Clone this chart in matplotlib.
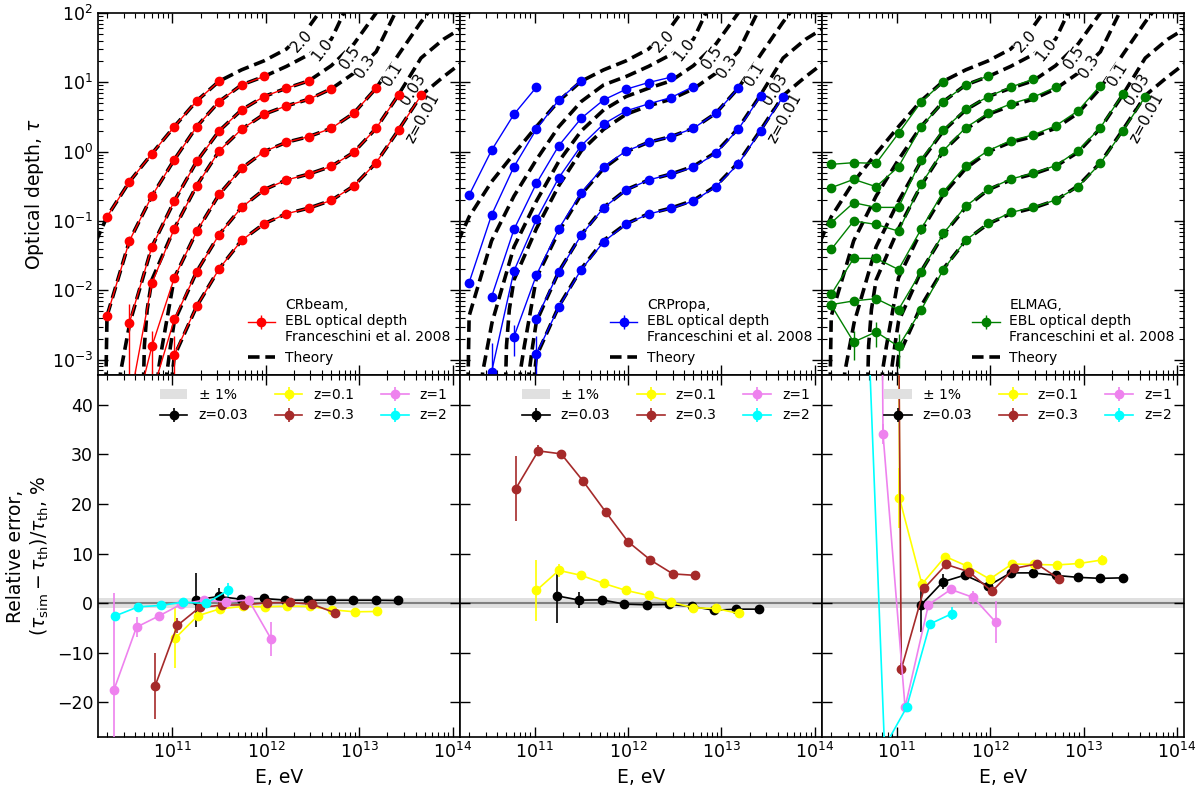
import numpy as np
import matplotlib
matplotlib.use("Agg")
import matplotlib.pyplot as plt
from matplotlib.patches import Patch

N = np.nan

# ---------------- energy grid of simulated points (log10 E/eV) ----------------
grid_logE = [10.30, 10.54, 10.78, 11.02, 11.26, 11.50, 11.74, 11.98,
             12.22, 12.46, 12.70, 12.94, 13.18, 13.42, 13.66]

z_labels = ["2.0", "1.0", "0.5", "0.3", "0.1", "0.03", "z=0.01"]

# ---------------- theory curves (log10 E, log10 tau) ----------------
th_z2_logE = [10.18, 10.30, 10.54, 10.78, 11.02, 11.26, 11.50, 11.74, 11.98, 12.22, 12.46, 12.70]
th_z2_logtau = [-1.30, -0.94, -0.434, -0.03, 0.361, 0.732, 1.016, 1.18, 1.31, 1.48, 1.80, 2.25]

th_z1_logE = [10.285, 10.30, 10.54, 10.78, 11.02, 11.26, 11.50, 11.74, 11.98, 12.22, 12.46, 12.70, 12.94]
th_z1_logtau = [-3.6, -2.37, -1.286, -0.641, -0.116, 0.361, 0.723, 0.963, 1.084, 1.23, 1.40, 1.62, 2.3]

th_z05_logE = [10.42, 10.445, 10.545, 10.78, 11.02, 11.26, 11.50, 11.74, 11.98, 12.22, 12.46, 12.70, 12.94, 13.18, 13.42]
th_z05_logtau = [-3.6, -3.18, -2.466, -1.373, -0.713, -0.14, 0.299, 0.602, 0.795, 0.915, 1.021, 1.24, 1.55, 2.0, 2.5]

th_z03_logE = [10.685, 10.70, 10.73, 10.78, 11.02, 11.26, 11.50, 11.74, 11.98, 12.22, 12.46, 12.70, 12.94, 13.18, 13.42]
th_z03_logtau = [-3.6, -2.8, -2.28, -1.85, -1.11, -0.49, 0.01, 0.323, 0.539, 0.66, 0.756, 0.906, 1.13, 1.44, 2.1]

th_z01_logE = [10.83, 10.85, 10.89, 11.02, 11.26, 11.50, 11.74, 11.98, 12.22, 12.46, 12.70, 12.94, 13.18, 13.42, 13.66, 13.90]
th_z01_logtau = [-3.6, -3.15, -2.81, -1.82, -1.15, -0.616, -0.241, 0.0, 0.135, 0.217, 0.337, 0.554, 0.915, 1.40, 1.87, 2.3]

th_z003_logE = [10.92, 10.94, 10.98, 11.02, 11.26, 11.50, 11.74, 11.98, 12.22, 12.46, 12.70, 12.94, 13.18, 13.42, 13.66, 13.90, 14.14]
th_z003_logtau = [-3.6, -3.2, -2.8, -2.45, -1.73, -1.196, -0.804, -0.549, -0.409, -0.323, -0.212, -0.01, 0.337, 0.82, 1.35, 1.62, 1.82]

th_z001_logE = [10.98, 11.00, 11.02, 11.26, 11.50, 11.74, 11.98, 12.22, 12.46, 12.70, 12.94, 13.18, 13.42, 13.66, 13.90, 14.14]
th_z001_logtau = [-3.6, -3.2, -2.95, -2.23, -1.69, -1.28, -1.04, -0.896, -0.814, -0.703, -0.496, -0.159, 0.313, 0.81, 1.08, 1.33]

# inline curve labels: log10 E, log10 tau, rotation
lab_logE = [12.384, 12.598, 12.90, 13.06, 13.36, 13.576, 13.68]
lab_logtau = [1.594, 1.47, 1.354, 1.23, 1.11, 0.896, 0.487]
lab_rot = [47, 52, 56, 56, 58, 58, 61]

# ---------------- simulated optical depth (log10 tau) on grid ----------------
# CRbeam
cb_z2 = [-0.94, -0.434, -0.03, 0.361, 0.732, 1.016, N, N, N, N, N, N, N, N, N]
cb_z1 = [-2.37, -1.286, -0.641, -0.116, 0.361, 0.723, 0.963, 1.084, N, N, N, N, N, N, N]
cb_z05 = [N, -2.466, -1.373, -0.713, -0.14, 0.299, 0.602, 0.795, 0.915, 1.021, N, N, N, N, N]
cb_z03 = [N, -3.64, -1.90, -1.11, -0.49, 0.01, 0.323, 0.539, 0.66, 0.756, 0.906, N, N, N, N]
cb_z01 = [N, -4.1, -2.81, -1.82, -1.15, -0.616, -0.241, 0.0, 0.135, 0.217, 0.337, 0.554, 0.915, N, N]
cb_z003 = [N, N, -3.5, -2.42, -1.73, -1.196, -0.804, -0.549, -0.409, -0.323, -0.212, -0.01, 0.337, 0.82, N]
cb_z001 = [N, N, N, -2.93, -2.23, -1.69, -1.28, -1.04, -0.896, -0.814, -0.703, -0.496, -0.159, 0.313, 0.81]
# CRPropa
cp_z2 = [-0.626, 0.019, 0.539, 0.93, N, N, N, N, N, N, N, N, N, N, N]
cp_z1 = [-1.888, -0.915, -0.217, 0.323, 0.747, 1.026, N, N, N, N, N, N, N, N, N]
cp_z05 = [N, -2.095, -1.122, -0.458, 0.087, 0.482, 0.747, 0.90, 0.997, 1.074, N, N, N, N, N]
cp_z03 = [N, -3.18, -1.72, -0.978, -0.376, 0.087, 0.40, 0.588, 0.689, 0.78, 0.939, N, N, N, N]
cp_z01 = [N, N, -2.67, -1.78, -1.113, -0.592, -0.217, 0.0096, 0.135, 0.217, 0.337, 0.554, 0.915, N, N]
cp_z003 = [N, N, N, -2.41, -1.734, -1.204, -0.809, -0.554, -0.409, -0.323, -0.226, -0.024, 0.323, 0.804, N]
cp_z001 = [N, N, N, -2.92, -2.24, -1.70, -1.30, -1.045, -0.90, -0.819, -0.713, -0.506, -0.178, 0.30, 0.795]
# ELMAG
el_z2 = [-0.183, -0.159, -0.169, 0.265, 0.713, 1.01, N, N, N, N, N, N, N, N, N]
el_z1 = [-0.52, -0.40, -0.506, -0.217, 0.352, 0.723, 0.963, 1.094, N, N, N, N, N, N, N]
el_z05 = [-1.026, -0.737, -0.804, -0.804, -0.12, 0.313, 0.612, 0.795, 0.93, 1.045, N, N, N, N, N]
el_z03 = [-1.41, -1.00, -1.05, -1.146, -0.472, 0.0145, 0.347, 0.554, 0.689, 0.785, 0.93, N, N, N, N]
el_z01 = [-2.056, -1.54, -1.54, -1.70, -1.122, -0.578, -0.202, 0.0145, 0.159, 0.241, 0.371, 0.588, 0.954, N, N]
el_z003 = [-2.206, -2.153, -2.12, -2.278, -1.734, -1.18, -0.785, -0.544, -0.395, -0.313, -0.202, 0.0145, 0.347, 0.829, N]
el_z001 = [-2.215, -2.746, -2.60, -2.81, -2.288, -1.70, -1.276, -1.036, -0.877, -0.804, -0.698, -0.506, -0.169, 0.30, 0.795]

# visible error bars in tau units: (curve index, grid index) -> error
cb_err = {(2, 1): 0.003, (4, 2): 0.001, (6, 3): 0.001}
cp_err = {(3, 1): 0.0011, (4, 2): 0.001, (6, 3): 0.001}
el_err = {(6, 1): 0.0008, (6, 2): 0.001, (6, 3): 0.0008}

code_names = ["CRbeam", "CRPropa", "ELMAG"]
code_colors = ["red", "blue", "green"]

# ---------------- relative errors, % (log10 E, value, error) ----------------
rel_colors = ["black", "yellow", "brown", "violet", "cyan"]
rel_labels = ["z=0.03", "z=0.1", "z=0.3", "z=1", "z=2"]

# CRbeam
cb_r003_logE = [11.253, 11.495, 11.733, 11.975, 12.21, 12.455, 12.694, 12.936, 13.174, 13.413]
cb_r003_val = [0.67, 1.34, 0.8, 0.94, 0.6, 0.6, 0.6, 0.6, 0.6, 0.54]
cb_r003_err = [5.4, 1.7, 0.3, 0.3, 0.2, 0.2, 0.2, 0.2, 0.2, 0.2]
cb_r01_logE = [11.03, 11.27, 11.51, 11.755, 11.99, 12.23, 12.47, 12.71, 12.95, 13.19]
cb_r01_val = [-7.06, -2.56, -1.14, -0.67, -0.74, -0.6, -0.67, -1.34, -1.75, -1.68]
cb_r01_err = [6.0, 1.0, 0.5, 0.3, 0.3, 0.3, 0.3, 0.3, 0.3, 0.4]
cb_r03_logE = [10.815, 11.053, 11.29, 11.534, 11.77, 12.01, 12.256, 12.495, 12.737]
cb_r03_val = [-16.7, -4.5, -0.87, -0.4, -0.34, 0.07, 0.13, -0.2, -1.95]
cb_r03_err = [6.6, 1.5, 0.5, 0.3, 0.3, 0.3, 0.3, 0.3, 0.4]
cb_r1_logE = [10.374, 10.616, 10.858, 11.096, 11.335, 11.573, 11.815, 12.057]
cb_r1_val = [-17.5, -4.84, -2.56, -0.2, 0.6, 0.2, 0.67, -7.26]
cb_r1_err = [19.5, 2.0, 0.5, 0.5, 0.5, 0.5, 0.8, 3.4]
cb_r2_logE = [10.39, 10.633, 10.875, 11.114, 11.356, 11.594]
cb_r2_val = [-2.56, -0.74, -0.47, 0.2, -0.07, 2.56]
cb_r2_err = [0.5, 0.3, 0.3, 0.3, 0.5, 1.6]

# CRPropa
cp_r003_logE = [11.24, 11.48, 11.72, 11.96, 12.20, 12.44, 12.68, 12.92, 13.16, 13.40]
cp_r003_val = [1.48, 0.6, 0.67, -0.2, -0.34, -0.27, -0.67, -1.41, -1.21, -1.21]
cp_r003_err = [5.4, 1.6, 0.3, 0.3, 0.3, 0.3, 0.3, 0.3, 0.3, 0.3]
cp_r01_logE = [11.02, 11.26, 11.50, 11.74, 11.98, 12.22, 12.46, 12.70, 12.94, 13.185]
cp_r01_val = [2.56, 6.6, 5.6, 3.97, 2.56, 1.55, 0.2, -0.94, -1.08, -2.08]
cp_r01_err = [6.2, 1.3, 0.3, 0.3, 0.3, 0.3, 0.3, 0.3, 0.3, 0.4]
cp_r03_logE = [10.80, 11.04, 11.285, 11.52, 11.765, 12.00, 12.24, 12.48, 12.72]
cp_r03_val = [23.1, 30.7, 30.1, 24.6, 18.3, 12.4, 8.7, 5.9, 5.6]
cp_r03_err = [6.6, 1.1, 0.4, 0.4, 0.3, 0.3, 0.3, 0.3, 0.6]
cp_r1_logE = [10.374, 10.616, 10.858, 11.096, 11.335, 11.573]
cp_r1_val = [203, 135, 165, 175, 143, 101]
cp_r1_err = [5, 3, 2, 2, 2, 2]
cp_r2_logE = [10.39, 10.633, 10.875, 11.114]
cp_r2_val = [106, 184, 270, 270]
cp_r2_err = [5, 3, 3, 3]

# ELMAG
el_r003_logE = [11.256, 11.495, 11.73, 11.98, 12.22, 12.455, 12.70, 12.94, 13.18, 13.42]
el_r003_val = [-0.47, 4.3, 5.65, 3.5, 6.1, 6.1, 5.6, 5.2, 5.0, 5.1]
el_r003_err = [5.4, 1.5, 0.3, 0.3, 0.3, 0.3, 0.3, 0.3, 0.3, 0.3]
el_r01_logE = [10.79, 11.03, 11.27, 11.52, 11.75, 11.996, 12.235, 12.47, 12.715, 12.955, 13.195]
el_r01_val = [1760, 21.2, 3.83, 9.4, 7.5, 4.84, 7.9, 7.8, 7.7, 8.0, 8.7]
el_r01_err = [50, 6.0, 1.0, 0.4, 0.4, 0.4, 0.4, 0.3, 0.3, 0.3, 1.0]
el_r03_logE = [10.80, 11.05, 11.295, 11.53, 11.776, 12.02, 12.256, 12.50, 12.737]
el_r03_val = [608, -13.3, 3.0, 7.8, 6.3, 2.35, 7.0, 7.9, 4.9]
el_r03_err = [30, 1.2, 0.5, 0.4, 0.4, 0.5, 0.4, 0.4, 0.6]
el_r1_logE = [10.61, 10.854, 11.09, 11.34, 11.58, 11.82, 12.06]
el_r1_val = [670, 34.1, -21.0, -0.34, 2.76, 1.14, -3.83]
el_r1_err = [50, 2.0, 1.0, 0.5, 0.5, 1.3, 4.2]
el_r2_logE = [10.63, 10.87, 11.107, 11.356, 11.594]
el_r2_val = [88, -29, -21, -4.2, -2.1]
el_r2_err = [5, 2, 0.5, 0.5, 1.3]

# ---------------- grouping ----------------
th_logE = [th_z2_logE, th_z1_logE, th_z05_logE, th_z03_logE, th_z01_logE, th_z003_logE, th_z001_logE]
th_logtau = [th_z2_logtau, th_z1_logtau, th_z05_logtau, th_z03_logtau, th_z01_logtau, th_z003_logtau, th_z001_logtau]
sim_sets = [
    [cb_z2, cb_z1, cb_z05, cb_z03, cb_z01, cb_z003, cb_z001],
    [cp_z2, cp_z1, cp_z05, cp_z03, cp_z01, cp_z003, cp_z001],
    [el_z2, el_z1, el_z05, el_z03, el_z01, el_z003, el_z001],
]
err_sets = [cb_err, cp_err, el_err]
rel_sets = [
    [(cb_r003_logE, cb_r003_val, cb_r003_err), (cb_r01_logE, cb_r01_val, cb_r01_err),
     (cb_r03_logE, cb_r03_val, cb_r03_err), (cb_r1_logE, cb_r1_val, cb_r1_err),
     (cb_r2_logE, cb_r2_val, cb_r2_err)],
    [(cp_r003_logE, cp_r003_val, cp_r003_err), (cp_r01_logE, cp_r01_val, cp_r01_err),
     (cp_r03_logE, cp_r03_val, cp_r03_err), (cp_r1_logE, cp_r1_val, cp_r1_err),
     (cp_r2_logE, cp_r2_val, cp_r2_err)],
    [(el_r003_logE, el_r003_val, el_r003_err), (el_r01_logE, el_r01_val, el_r01_err),
     (el_r03_logE, el_r03_val, el_r03_err), (el_r1_logE, el_r1_val, el_r1_err),
     (el_r2_logE, el_r2_val, el_r2_err)],
]

# ---------------- figure ----------------
fig, axes = plt.subplots(2, 3, figsize=(12, 7.92), dpi=100, sharex=True, sharey="row")
fig.subplots_adjust(left=0.0817, right=0.987, top=0.9836, bottom=0.0694, wspace=0, hspace=0)

grid_E = 10 ** np.array(grid_logE)

for j in range(3):
    ax = axes[0, j]
    ax.set_xscale("log")
    ax.set_yscale("log")
    theory_handle = None
    for k in range(7):
        (ln,) = ax.plot(10 ** np.array(th_logE[k]), 10 ** np.array(th_logtau[k]),
                        color="black", lw=2.6, dashes=(3.2, 1.6), zorder=1)
        theory_handle = ln
        ax.text(10 ** lab_logE[k], 10 ** lab_logtau[k], z_labels[k], rotation=lab_rot[k],
                fontsize=11, ha="center", va="center", rotation_mode="anchor", zorder=2,
                bbox=dict(facecolor="white", edgecolor="none", pad=0.2))
    sim_handle = None
    for k in range(7):
        tau = 10 ** np.array(sim_sets[j][k])
        err = np.zeros(len(tau))
        for (kk, idx), e in err_sets[j].items():
            if kk == k:
                err[idx] = e
        h = ax.errorbar(grid_E, tau, yerr=err, color=code_colors[j], marker="o", ms=6,
                        lw=1.0, elinewidth=1.0, capsize=0, zorder=3)
        if k == 6:
            sim_handle = h
    ax.legend([sim_handle, theory_handle],
              [code_names[j] + ",\nEBL optical depth\nFranceschini et al. 2008", "Theory"],
              loc="lower right", fontsize=10, frameon=False, handlelength=2.0,
              handletextpad=0.7, borderaxespad=0.3)
    ax.set_xlim(1.6e10, 1.2e14)
    ax.set_ylim(6e-4, 100)

for j in range(3):
    ax = axes[1, j]
    ax.axhspan(-1, 1, color="#e0e0e0", lw=0, zorder=0)
    ax.axhline(0, color="gray", lw=1.5, zorder=1)
    handles = [Patch(facecolor="#e0e0e0", edgecolor="none")]
    for k in range(5):
        le, val, er = rel_sets[j][k]
        h = ax.errorbar(10 ** np.array(le), val, yerr=er, color=rel_colors[k], marker="o",
                        ms=6, lw=1.2, elinewidth=1.2, capsize=0, zorder=3)
        handles.append(h)
    ax.legend(handles, ["± 1%"] + rel_labels, loc="upper right", ncol=3, fontsize=10,
              frameon=False, handlelength=2.0, columnspacing=1.9)
    ax.set_ylim(-27, 46)
    ax.set_yticks([-20, -10, 0, 10, 20, 30, 40])
    ax.set_xlabel("E, eV", fontsize=13.5)

for ax in axes.flat:
    ax.tick_params(which="both", direction="in", top=True, right=True, labelsize=12.5)
    ax.tick_params(which="major", length=7, width=1)
    ax.tick_params(which="minor", length=3.5, width=0.8)
    for s in ax.spines.values():
        s.set_linewidth(1.2)

axes[0, 0].set_ylabel(r"Optical depth, $\tau$", fontsize=13.5)
axes[1, 0].set_ylabel("Relative error,\n" + r"$(\tau_{\rm sim}-\tau_{\rm th})/\tau_{\rm th}$, %",
                      fontsize=13.5)

fig.savefig("out.png", dpi=100)
